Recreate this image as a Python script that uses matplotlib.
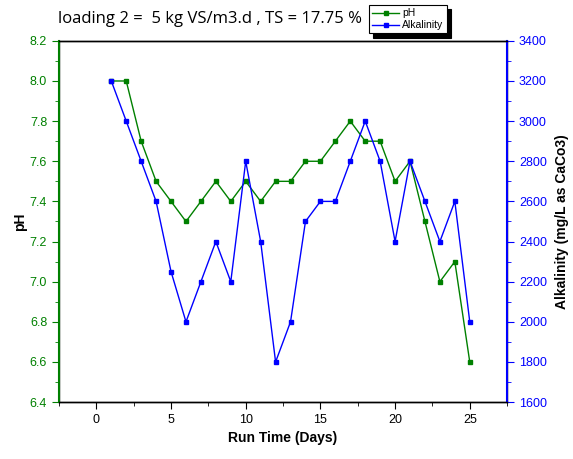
import matplotlib.pyplot as plt
from matplotlib.ticker import MultipleLocator

plt.rcParams['font.family'] = ['Liberation Sans', 'DejaVu Sans']

# Dados
dias = list(range(1, 26))
ph = [8.0, 8.0, 7.7, 7.5, 7.4, 7.3, 7.4, 7.5, 7.4, 7.5, 7.4, 7.5, 7.5,
      7.6, 7.6, 7.7, 7.8, 7.7, 7.7, 7.5, 7.6, 7.3, 7.0, 7.1, 6.6]
alcalinidade = [3200, 3000, 2800, 2600, 2250, 2000, 2200, 2400, 2200, 2800,
                2400, 1800, 2000, 2500, 2600, 2600, 2800, 3000, 2800, 2400,
                2800, 2600, 2400, 2600, 2000]

verde = '#008000'
azul = '#0000ff'

fig = plt.figure(figsize=(5.73, 4.59), dpi=100)
ax = fig.add_axes([0.103, 0.124, 0.782, 0.787])
ax2 = ax.twinx()

l1, = ax.plot(dias, ph, color=verde, marker='s', markersize=3.5, linewidth=1, label='pH')
l2, = ax2.plot(dias, alcalinidade, color=azul, marker='s', markersize=3.5, linewidth=1, label='Alkalinity')

ax.set_xlim(-2.5, 27.5)
ax.set_ylim(6.4, 8.2)
ax2.set_ylim(1600, 3400)

ax.xaxis.set_major_locator(MultipleLocator(5))
ax.xaxis.set_minor_locator(MultipleLocator(2.5))
ax.yaxis.set_major_locator(MultipleLocator(0.2))
ax.yaxis.set_minor_locator(MultipleLocator(0.1))
ax2.yaxis.set_major_locator(MultipleLocator(200))
ax2.yaxis.set_minor_locator(MultipleLocator(100))
ax.yaxis.set_major_formatter(plt.FormatStrFormatter('%.1f'))

ax.tick_params(axis='x', which='both', direction='out', labelsize=9)
ax.tick_params(axis='x', which='major', length=5)
ax.tick_params(axis='x', which='minor', length=3)
ax.tick_params(axis='y', which='major', direction='out', length=5, colors=verde, labelsize=9)
ax.tick_params(axis='y', which='minor', direction='out', length=3, colors=verde)
ax2.tick_params(axis='y', which='major', direction='out', length=5, colors=azul, labelsize=9)
ax2.tick_params(axis='y', which='minor', direction='out', length=3, colors=azul)

ax2.spines['left'].set_color(verde)
ax2.spines['right'].set_color(azul)
for a in (ax, ax2):
    for s in a.spines.values():
        s.set_linewidth(1)
ax2.spines['left'].set_linewidth(1.5)
ax2.spines['right'].set_linewidth(1.5)

ax.set_xlabel('Run Time (Days)', fontweight='bold', fontsize=10)
ax.set_ylabel('pH', fontweight='bold', fontsize=10, labelpad=2)
ax2.set_ylabel('Alkalinity (mg/L as CaCo3)', fontweight='bold', fontsize=10, labelpad=6)

fig.text(0.101, 0.958, 'loading 2 =  5 kg VS/m3.d , TS = 17.75 %', fontsize=12,
         family=['Open Sans', 'DejaVu Sans'], va='center', ha='left')

leg = fig.legend(handles=[l1, l2], loc='upper left', bbox_to_anchor=(0.644, 0.989),
                 fontsize=7.5, frameon=True, fancybox=False,
                 shadow={'color': 'black', 'alpha': 1, 'ox': 3, 'oy': -3},
                 edgecolor='black', handlelength=2.6, borderpad=0.3,
                 labelspacing=0.2, handletextpad=0.3, borderaxespad=0)
leg.get_frame().set_linewidth(0.8)

plt.savefig('out.png', dpi=100)
